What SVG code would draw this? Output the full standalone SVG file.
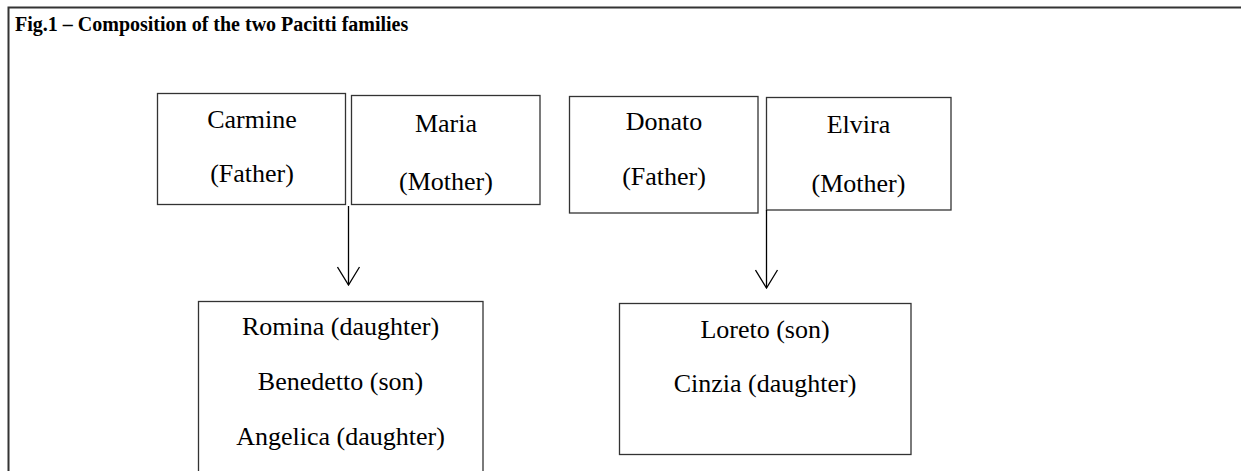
<svg xmlns="http://www.w3.org/2000/svg" width="1241" height="471" viewBox="0 0 1241 471">
<defs>
<style>
.box{fill:#fff;stroke:#333;stroke-width:1.3}
.t{font-family:"Liberation Serif","Times New Roman",serif;font-size:26px;fill:#000;text-anchor:middle}
.title{font-family:"Liberation Serif","Times New Roman",serif;font-size:20px;font-weight:bold;fill:#000}
.conn{stroke:#000;stroke-width:1.3;fill:none}
</style>
<marker id="arr" viewBox="0 0 20 24" refX="19" refY="12" markerWidth="20" markerHeight="24" markerUnits="userSpaceOnUse" orient="auto">
<path d="M1,1 L19,12 L1,23" fill="none" stroke="#000" stroke-width="1.3"/>
</marker>
</defs>
<rect width="1241" height="471" fill="#fff"/>
<g id="frame">
<path d="M8.5,471 L8.5,7.5 L1241,7.5" fill="none" stroke="#333" stroke-width="2"/>
<text class="title" x="15" y="31">Fig.1 – Composition of the two Pacitti families</text>
</g>
<g id="carmine">
<rect class="box" x="157.5" y="93.5" width="188" height="111"/>
<text class="t" x="252" y="128">Carmine</text>
<text class="t" x="252" y="182">(Father)</text>
</g>
<g id="maria">
<rect class="box" x="351.5" y="95.5" width="188.5" height="109"/>
<text class="t" x="446" y="132">Maria</text>
<text class="t" x="446" y="190">(Mother)</text>
</g>
<g id="donato">
<rect class="box" x="569.5" y="96.5" width="188.5" height="116.5"/>
<text class="t" x="664" y="130">Donato</text>
<text class="t" x="664" y="185">(Father)</text>
</g>
<g id="elvira">
<rect class="box" x="766.5" y="97.5" width="184.5" height="112.5"/>
<text class="t" x="858.5" y="133">Elvira</text>
<text class="t" x="858.5" y="192">(Mother)</text>
</g>
<g id="children1">
<rect class="box" x="198.5" y="301.5" width="284.5" height="180"/>
<text class="t" x="340.5" y="335">Romina (daughter)</text>
<text class="t" x="340.5" y="390">Benedetto (son)</text>
<text class="t" x="340.5" y="445">Angelica (daughter)</text>
</g>
<g id="children2">
<rect class="box" x="619.5" y="303.5" width="291.5" height="151"/>
<text class="t" x="765" y="338">Loreto (son)</text>
<text class="t" x="765" y="392">Cinzia (daughter)</text>
</g>
<g id="connectors">
<line class="conn" x1="348.5" y1="206" x2="348.5" y2="285" marker-end="url(#arr)"/>
<line class="conn" x1="766.5" y1="210" x2="766.5" y2="288" marker-end="url(#arr)"/>
</g>
</svg>
